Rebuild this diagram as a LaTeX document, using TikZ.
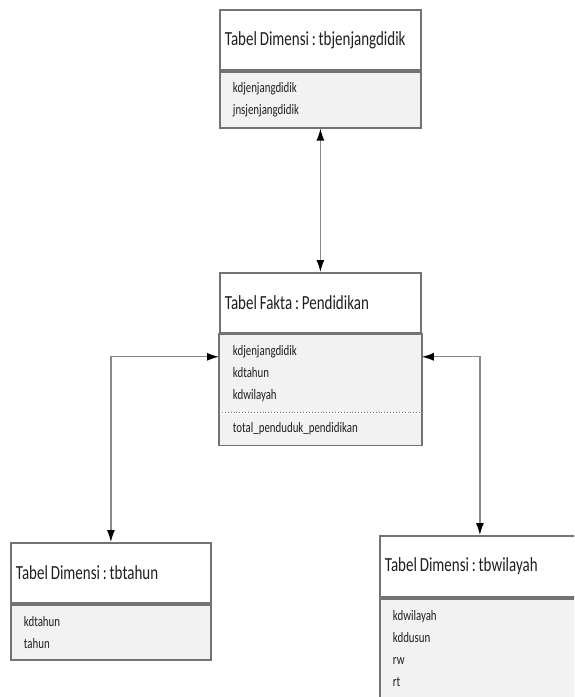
\documentclass[tikz,border=0pt]{standalone}
\usepackage{fontspec}
\setmainfont{Carlito}[FakeStretch=0.75]
\usepackage{xcolor}
\usetikzlibrary{arrows.meta,positioning}
\definecolor{boxline}{HTML}{737373}
\definecolor{attrfill}{HTML}{F2F2F2}
\definecolor{connline}{HTML}{8A8A8A}
\definecolor{txt}{HTML}{1F1F1F}
\newcommand{\headfont}{\fontsize{20}{22}\selectfont}
\newcommand{\attrfont}{\fontsize{14.5}{22}\selectfont}

\begin{document}
\begin{tikzpicture}[x=1pt, y=-1pt,
  tblhead/.style={draw=boxline, line width=1.8pt, fill=white, anchor=north west,
    inner xsep=5pt, inner ysep=0pt, text width=#1, align=left, minimum height=60pt,
    font=\headfont, text=txt, execute at begin node={\frenchspacing\spaceskip=2.8pt\relax}},
  tblattr/.style={draw=boxline, line width=1.8pt, fill=attrfill, anchor=north west,
    inner xsep=13pt, inner ysep=0pt, text width=#1, align=left,
    font=\attrfont, text=txt},
  conn/.style={draw=connline, line width=1.3pt,
    {Latex[length=12pt,width=8pt,black]}-{Latex[length=12pt,width=8pt,black]}}]
  \useasboundingbox (0,0) rectangle (574,697);
  \clip (0,0) rectangle (574,697);

  % dimensi jenjang didik
  \node[tblhead=191pt] (jenjang) at (219,9) {Tabel Dimensi : tbjenjangdidik};
  \node[tblattr=175pt, minimum height=56pt] (jenjang-attr) at (jenjang.south west)
    {kdjenjangdidik\\jnsjenjangdidik};

  % fakta pendidikan
  \node[tblhead=191pt] (fakta) at (219,272) {Tabel Fakta : Pendidikan};
  \node[tblattr=175pt, draw=none, minimum height=77pt] (fakta-keys) at (fakta.south west)
    {kdjenjangdidik\\kdtahun\\kdwilayah};
  \node[tblattr=175pt, draw=none, minimum height=31pt] (fakta-measure) at (fakta-keys.south west)
    {total\_penduduk\_pendidikan};
  \draw[boxline, line width=1.8pt] (fakta-keys.north west) rectangle (fakta-measure.south east);
  \draw[boxline, line width=0.9pt, dotted] (fakta-keys.south west) -- (fakta-keys.south east);

  % dimensi tahun
  \node[tblhead=190pt] (tahun) at (10,542) {Tabel Dimensi : tbtahun};
  \node[tblattr=174pt, minimum height=55pt] (tahun-attr) at (tahun.south west)
    {kdtahun\\tahun};

  % dimensi wilayah
  \node[tblhead=190pt, minimum height=61pt] (wilayah) at (379,535) {Tabel Dimensi : tbwilayah};
  \node[tblattr=174pt, minimum height=99pt] (wilayah-attr) at (wilayah.south west)
    {kdwilayah\\kddusun\\rw\\rt};

  \draw[conn] (jenjang-attr.south) -- (fakta.north);
  \draw[conn] (tahun.north) |- ([yshift=-23pt]fakta-keys.north west);
  \draw[conn] (wilayah.north) |- ([yshift=-23pt]fakta-keys.north east);
\end{tikzpicture}
\end{document}
